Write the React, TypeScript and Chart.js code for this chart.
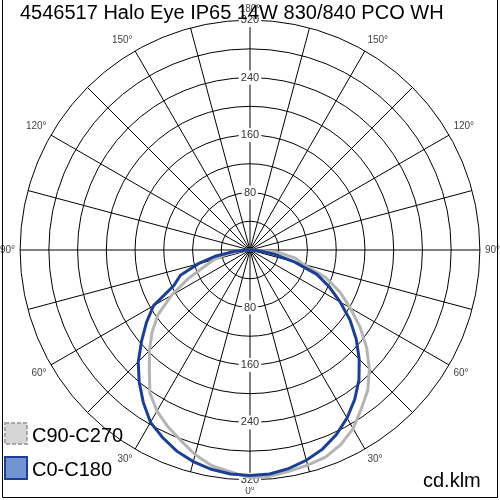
import React, { useEffect, useRef } from "react";
import { Chart, registerables } from "chart.js";

Chart.register(...registerables);

const FONT = "'Liberation Sans', Arial, sans-serif";
const TITLE = "4546517 Halo Eye IP65 14W 830/840 PCO WH";
const UNIT = "cd.klm";

// gamma angles of the photometric planes (degrees, 0 = straight down)
const GAMMA = [
  0, 5, 10, 15, 20, 25, 30, 35, 40, 45, 50, 55, 60, 65, 70, 75, 80, 85, 90,
  95, 100, 105, 110, 115, 120, 125, 130, 135, 140, 145, 150, 155, 160, 165, 170, 175, 180,
];
// labelled angles on the outer ring
const ANGLE_LABELS = [0, 30, 60, 90, 120, 150, 180];
// labelled intensity rings (cd/klm)
const R_LABELS = [80, 160, 240, 320];

// luminous intensity, cd/klm, per gamma angle
const C0 = [
  314, 313, 309, 303, 295, 284, 270, 254, 236, 215, 193, 170, 145, 122, 99, 64, 34, 14, 3,
  0, 0, 0, 0, 0, 0, 0, 0, 0, 0, 0, 0, 0, 0, 0, 0, 0, 0,
];
const C180 = [
  314, 313, 310, 305, 298, 288, 277, 259, 240, 220, 197, 176, 155, 117, 103, 75, 48, 22, 4,
  0, 0, 0, 0, 0, 0, 0, 0, 0, 0, 0, 0, 0, 0, 0, 0, 0, 0,
];
const C90 = [
  317, 316, 313, 310, 307, 299, 287, 270, 255, 235, 212, 187, 161, 138, 112, 77, 64, 40, 6,
  0, 0, 0, 0, 0, 0, 0, 0, 0, 0, 0, 0, 0, 0, 0, 0, 0, 0,
];
const C270 = [
  312, 310, 305, 295, 282, 271, 259, 243, 218, 198, 178, 156, 126, 96, 68, 52, 32, 15, 3,
  0, 0, 0, 0, 0, 0, 0, 0, 0, 0, 0, 0, 0, 0, 0, 0, 0, 0,
];

const LEGEND_LABELS = ["C90-C270", "C0-C180"];

const BLUE = "#1c3f94";
const BLUE_FILL = "#7393d3";
const GREY = "#b4b4b4";
const GREY_FILL = "#d6d6d6";

// radar index i runs clockwise from the top (gamma 180) down the right half to
// the bottom (gamma 0) and back up the left half
const N = GAMMA.length - 1;
const labels: string[] = [];
function polar(right: number[], left: number[]): number[] {
  const out: number[] = [];
  for (let i = 0; i <= N; i++) out.push(right[N - i]);
  for (let i = N + 1; i < 2 * N; i++) out.push(left[i - N]);
  return out;
}
for (let i = 0; i <= N; i++) labels.push(GAMMA[N - i] + "°");
for (let i = N + 1; i < 2 * N; i++) labels.push(GAMMA[i - N] + "°");

const overlay = {
  id: "overlay",
  beforeDatasetsDraw(chart: any) {
    // ring labels on the upper and lower vertical axis
    const s = chart.scales.r;
    const ctx = chart.ctx;
    ctx.save();
    ctx.font = `11px ${FONT}`;
    ctx.textAlign = "center";
    ctx.textBaseline = "middle";
    for (const v of R_LABELS) {
      const d = s.getDistanceFromCenterForValue(v);
      const t = String(v);
      const w = ctx.measureText(t).width;
      for (const sign of [-1, 1]) {
        const y = s.yCenter + sign * d;
        ctx.fillStyle = "#ffffff";
        ctx.fillRect(s.xCenter - w / 2 - 2, y - 7, w + 4, 14);
        ctx.fillStyle = "#333333";
        ctx.fillText(t, s.xCenter, y);
      }
    }
    ctx.restore();
  },
  afterDraw(chart: any) {
    const ctx = chart.ctx;
    ctx.save();
    ctx.fillStyle = "#000";
    ctx.font = `20px ${FONT}`;
    ctx.textAlign = "left";
    ctx.textBaseline = "alphabetic";
    ctx.fillText(TITLE, 20, 19);
    ctx.fillText(UNIT, 423, 487);
    // legend
    ctx.fillStyle = GREY_FILL;
    ctx.fillRect(5, 423, 22, 21);
    ctx.setLineDash([4, 2]);
    ctx.strokeStyle = "#a8a8a8";
    ctx.lineWidth = 2;
    ctx.strokeRect(5, 423, 22, 21);
    ctx.setLineDash([]);
    ctx.fillStyle = BLUE_FILL;
    ctx.fillRect(5, 457, 22, 22);
    ctx.strokeStyle = BLUE;
    ctx.strokeRect(5, 457, 22, 22);
    ctx.fillStyle = "#000";
    ctx.fillText(LEGEND_LABELS[0], 32, 442);
    ctx.fillText(LEGEND_LABELS[1], 32, 476);
    // frame
    ctx.strokeStyle = "#000";
    ctx.lineWidth = 1;
    ctx.beginPath();
    ctx.moveTo(2.5, 0);
    ctx.lineTo(2.5, 497.5);
    ctx.lineTo(497.5, 497.5);
    ctx.lineTo(497.5, 0);
    ctx.stroke();
    ctx.restore();
  },
};

export default function App() {
  const ref = useRef<HTMLCanvasElement>(null);
  useEffect(() => {
    const chart = new Chart(ref.current as HTMLCanvasElement, {
      type: "radar",
      data: {
        labels,
        datasets: [
          {
            label: LEGEND_LABELS[1],
            data: polar(C0, C180),
            borderColor: BLUE,
            borderWidth: 3,
            backgroundColor: "transparent",
            fill: false,
            pointRadius: 0,
            tension: 0,
          },
          {
            label: LEGEND_LABELS[0],
            data: polar(C90, C270),
            borderColor: GREY,
            borderWidth: 3,
            backgroundColor: "transparent",
            fill: false,
            pointRadius: 0,
            tension: 0,
          },
        ],
      },
      options: {
        responsive: false,
        animation: false,
        devicePixelRatio: 1,
        plugins: {
          legend: { display: false },
          tooltip: { enabled: false },
        },
        scales: {
          r: {
            min: 0,
            max: 320,
            startAngle: 0,
            beginAtZero: true,
            grid: { circular: true, color: "#000", lineWidth: 1 },
            angleLines: {
              display: true,
              lineWidth: 1,
              color: (c: any) => (c.index % 3 === 0 ? "#000" : "rgba(0,0,0,0)"),
            },
            ticks: {
              display: false,
              stepSize: 40,
            },
            pointLabels: {
              display: true,
              padding: 5,
              font: { family: FONT, size: 10 },
              color: "#444",
              callback: (label: string) =>
                ANGLE_LABELS.includes(parseInt(label, 10)) ? label : "",
            },
          },
        },
      },
      plugins: [overlay],
    } as any);
    return () => chart.destroy();
  }, []);
  return (
    <div style={{ position: "absolute", left: 0, top: 0, width: 500, height: 500, background: "#fff" }}>
      <canvas ref={ref} width={500} height={500} style={{ display: "block", width: 500, height: 500 }} />
    </div>
  );
}
